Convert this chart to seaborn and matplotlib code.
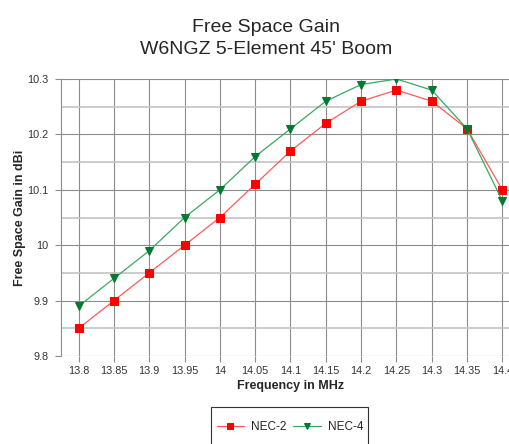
import matplotlib
matplotlib.use("Agg")
import matplotlib.pyplot as plt
from matplotlib.patches import Rectangle
import numpy as np
import pandas as pd
import seaborn as sns

freq_labels = ["13.8", "13.85", "13.9", "13.95", "14", "14.05", "14.1",
               "14.15", "14.2", "14.25", "14.3", "14.35", "14.4"]
nec2 = [9.85, 9.90, 9.95, 10.00, 10.05, 10.11, 10.17, 10.22, 10.26, 10.28, 10.26, 10.21, 10.10]
nec4 = [9.89, 9.94, 9.99, 10.05, 10.10, 10.16, 10.21, 10.26, 10.29, 10.30, 10.28, 10.21, 10.08]

sns.set_theme(style="white")
plt.rcParams["font.family"] = ["Liberation Sans", "DejaVu Sans"]

W, H = 510, 444
idx = np.arange(len(freq_labels))
df = pd.concat([
    pd.DataFrame({"pos": idx, "gain": nec2, "model": "NEC-2"}),
    pd.DataFrame({"pos": idx, "gain": nec4, "model": "NEC-4"}),
])

fig = plt.figure(figsize=(W / 100, H / 100), dpi=100)
ax = fig.add_axes([61 / W, 88 / H, 459 / W, 277 / H])

line_cols = {"NEC-2": "#ff5a5a", "NEC-4": "#3aa860"}
mark_cols = {"NEC-2": "#ff0000", "NEC-4": "#007a30"}
mark_shapes = {"NEC-2": "s", "NEC-4": "v"}
mark_sizes = {"NEC-2": 5.3, "NEC-4": 6.0}

for name in ["NEC-2", "NEC-4"]:
    sub = df[df["model"] == name]
    sns.lineplot(data=sub, x="pos", y="gain", ax=ax, color=line_cols[name],
                 linewidth=0.9, marker=mark_shapes[name], markersize=mark_sizes[name],
                 markerfacecolor=mark_cols[name], markeredgecolor=mark_cols[name],
                 label=name, zorder=3)

ax.set_xlim(-0.5, len(freq_labels) - 0.5)
ax.set_ylim(9.8, 10.3)
ax.set_xticks(idx)
ax.set_xticklabels(freq_labels)
ax.set_yticks([9.8, 9.9, 10.0, 10.1, 10.2, 10.3])
ax.set_yticklabels(["9.8", "9.9", "10", "10.1", "10.2", "10.3"])
ax.set_yticks([9.85, 9.95, 10.05, 10.15, 10.25], minor=True)

ax.grid(True, which="major", axis="both", color="#8c8c8c", linewidth=0.8)
ax.grid(True, which="minor", axis="y", color="#c4c4c4", linewidth=1.2)
ax.set_axisbelow(True)

for side in ["top", "right", "bottom"]:
    ax.spines[side].set_visible(False)
ax.spines["left"].set_color("#8c8c8c")
ax.spines["left"].set_linewidth(0.8)

ax.tick_params(axis="y", which="major", left=True, length=4, width=0.8, color="#8c8c8c",
               labelsize=7.8, labelcolor="#333333", pad=5)
ax.tick_params(axis="y", which="minor", left=False)
ax.tick_params(axis="x", bottom=True, length=4, width=0.8, color="#8c8c8c",
               labelsize=7.8, labelcolor="#333333", pad=3)

ax.set_xlabel("Frequency in MHz", fontsize=9, fontweight="bold")
ax.xaxis.set_label_coords(0.5, -24 / 277)
ax.set_ylabel("Free Space Gain in dBi", fontsize=9, fontweight="bold")
ax.yaxis.set_label_coords(-35 / 459, 0.5)

fig.text(265.5 / W, 1 - 31.7 / H, "Free Space Gain", ha="center", va="baseline", fontsize=14)
fig.text(266.5 / W, 1 - 54.3 / H, "W6NGZ 5-Element 45' Boom", ha="center", va="baseline", fontsize=14)

# legend box below the plot, running off the bottom edge
ax.legend_.remove()
handles, labels = ax.get_legend_handles_labels()
fig.patches.append(Rectangle((211 / W, -20 / H), 157 / W, (20 + H - 407) / H,
                             transform=fig.transFigure, facecolor="white",
                             edgecolor="#333333", linewidth=0.8))
fig.legend(handles, labels, loc="center", bbox_to_anchor=(290 / W, 1 - 427 / H),
           ncol=2, frameon=False, fontsize=8.5, handlelength=2.3,
           markerscale=0.8, columnspacing=0.6, handletextpad=0.6, borderpad=0,
           borderaxespad=0)

fig.savefig("out.png", dpi=100)
